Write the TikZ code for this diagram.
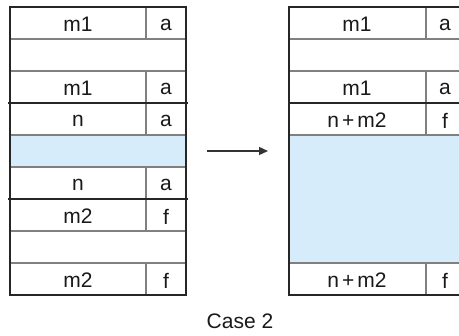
\documentclass[tikz,border=0pt]{standalone}
\usepackage{fontspec}
\setmainfont{Liberation Sans}
\usetikzlibrary{arrows.meta}
\definecolor{cellblue}{RGB}{214,236,250}
\definecolor{thinline}{gray}{0.5}
\definecolor{thickline}{gray}{0.15}
\newcommand{\plusgap}{\kern3pt+\kern3pt}
\begin{document}
\begin{tikzpicture}[x=1pt,y=-1pt,
  celltext/.style={font=\fontsize{21}{24}\selectfont, inner sep=0pt, text=black!90},
  thinrule/.style={draw=thinline, line width=1.4pt},
  thickrule/.style={draw=thickline, line width=2.6pt},
  freefill/.style={fill=cellblue}]
\useasboundingbox (0,0) rectangle (459,336);
\begin{scope}
\clip (0,0) rectangle (459,336);
% ---------- left table ----------
\fill[freefill] (10,135) rectangle (186,167);
\foreach \yy in {39,71,135,167,231,263} \draw[thinrule] (10,\yy) -- (186,\yy);
\draw[thinrule] (146,7) -- (146,39);
\draw[thinrule] (146,71) -- (146,135);
\draw[thinrule] (146,167) -- (146,231);
\draw[thinrule] (146,263) -- (146,295);
\draw[thickrule] (10,7) rectangle (186,295);
\draw[thickrule] (8,103) -- (188,103);
\draw[thickrule] (8,199) -- (188,199);
\node[celltext] (l1a) at (78,24.5) {m1};
\node[celltext] (l1b) at (166,24.5) {a};
\node[celltext] (l3a) at (78,88.5) {m1};
\node[celltext] (l3b) at (166,88.5) {a};
\node[celltext] (l4a) at (78,120.5) {n};
\node[celltext] (l4b) at (166,120.5) {a};
\node[celltext] (l6a) at (78,184.5) {n};
\node[celltext] (l6b) at (166,184.5) {a};
\node[celltext] (l7a) at (78,216.5) {m2};
\node[celltext] (l7b) at (166,216.5) {f};
\node[celltext] (l9a) at (78,280.5) {m2};
\node[celltext] (l9b) at (166,280.5) {f};
% ---------- right table ----------
\fill[freefill] (289,135) rectangle (465,263);
\foreach \yy in {39,71,135,263} \draw[thinrule] (289,\yy) -- (465,\yy);
\draw[thinrule] (426,7) -- (426,39);
\draw[thinrule] (426,71) -- (426,135);
\draw[thinrule] (426,263) -- (426,295);
\draw[thickrule] (289,7) rectangle (465,295);
\draw[thickrule] (289,103) -- (465,103);
\node[celltext] (r1a) at (357,24.5) {m1};
\node[celltext] (r1b) at (445,24.5) {a};
\node[celltext] (r3a) at (357,88.5) {m1};
\node[celltext] (r3b) at (445,88.5) {a};
\node[celltext] (r4a) at (357,120.5) {n\plusgap m2};
\node[celltext] (r4b) at (445,120.5) {f};
\node[celltext] (r9a) at (357,280.5) {n\plusgap m2};
\node[celltext] (r9b) at (445,280.5) {f};
\end{scope}
% ---------- arrow ----------
\coordinate (arrS) at (207,151);
\coordinate (arrE) at (268,151);
\draw[draw=black!80, line width=1.3pt, -{Triangle[length=9pt,width=8pt]}] (arrS) -- (arrE);
% ---------- caption ----------
\node[celltext] (caption) at (240,321.5) {Case 2};
\end{tikzpicture}
\end{document}
